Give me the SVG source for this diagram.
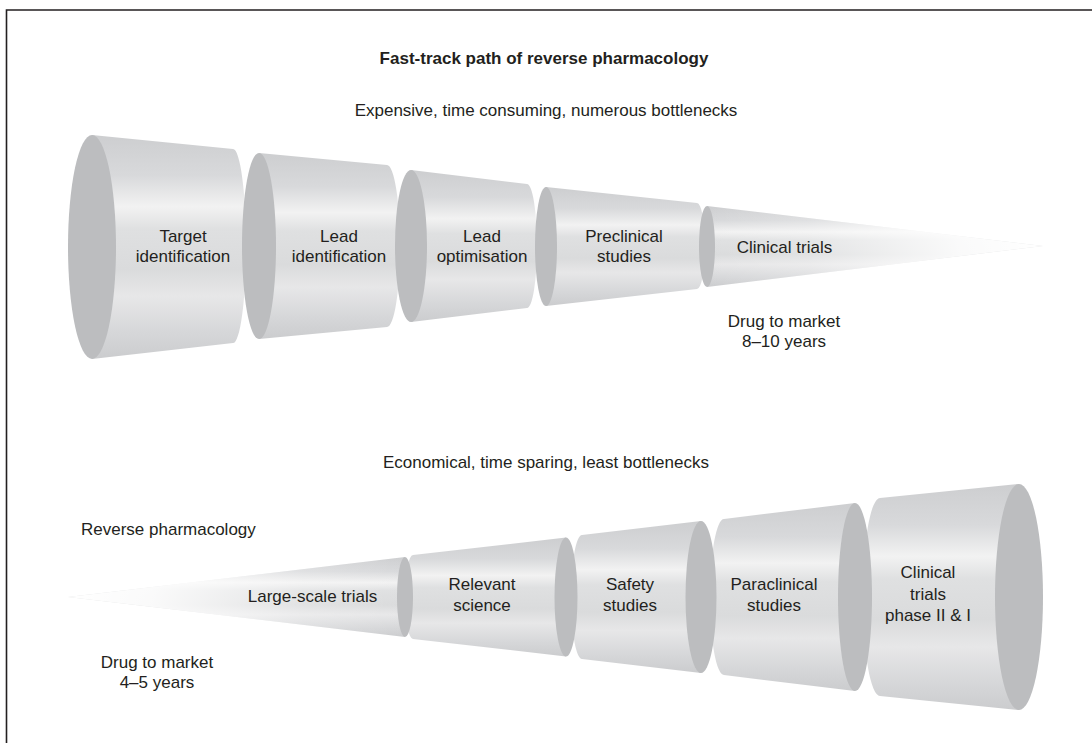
<svg xmlns="http://www.w3.org/2000/svg" width="1092" height="743" viewBox="0 0 1092 743">
<defs>
<linearGradient id="body" x1="0" y1="0" x2="0" y2="1">
<stop offset="0" stop-color="#cdced0"/>
<stop offset="0.18" stop-color="#d8d9db"/>
<stop offset="0.32" stop-color="#f2f2f2"/>
<stop offset="0.42" stop-color="#dfe0e1"/>
<stop offset="0.6" stop-color="#dadbdc"/>
<stop offset="0.72" stop-color="#e7e7e8"/>
<stop offset="0.88" stop-color="#d6d7d9"/>
<stop offset="1" stop-color="#cbccce"/>
</linearGradient>
<linearGradient id="fadeR" x1="0" y1="0" x2="1" y2="0">
<stop offset="0" stop-color="#fff" stop-opacity="0"/>
<stop offset="0.3" stop-color="#fff" stop-opacity="0.2"/>
<stop offset="0.75" stop-color="#fff" stop-opacity="0.85"/>
<stop offset="1" stop-color="#fff" stop-opacity="1"/>
</linearGradient>
<linearGradient id="fadeL" x1="1" y1="0" x2="0" y2="0">
<stop offset="0" stop-color="#fff" stop-opacity="0"/>
<stop offset="0.3" stop-color="#fff" stop-opacity="0.2"/>
<stop offset="0.75" stop-color="#fff" stop-opacity="0.85"/>
<stop offset="1" stop-color="#fff" stop-opacity="1"/>
</linearGradient>
<style>
.b{fill:url(#body)}
.f{fill:#bcbdbf}
.t{font-family:"Liberation Sans",Arial,sans-serif;font-size:17px;fill:#231f20}
.c{text-anchor:middle}
.h{font-weight:bold}
.frame{stroke:#231f20;stroke-width:1.6;fill:none}
</style>
</defs>
<rect width="1092" height="743" fill="#fff"/>
<path class="frame" d="M6.5 743 V10 H1092"/>
<g id="titles">
<text class="t c h" x="544" y="64">Fast-track path of reverse pharmacology</text>
<text class="t c" x="546" y="116">Expensive, time consuming, numerous bottlenecks</text>
<text class="t c" x="546" y="468">Economical, time sparing, least bottlenecks</text>
<text class="t" x="81" y="535">Reverse pharmacology</text>
<text class="t c" x="784" y="327">Drug to market</text>
<text class="t c" x="784" y="347">8–10 years</text>
<text class="t c" x="157" y="668">Drug to market</text>
<text class="t c" x="157" y="688">4–5 years</text>
</g>
<g id="top-target">
<path class="b" d="M92 135 L233 149 A13 97 0 0 1 233 343 L92 359 Z"/>
<ellipse class="f" cx="92" cy="247" rx="24" ry="112"/>
<text class="t c" x="183" y="242">Target</text>
<text class="t c" x="183" y="262">identification</text>
</g>
<g id="top-lead-id">
<path class="b" d="M259 153 L387 165 A13 81 0 0 1 387 327 L259 339 Z"/>
<ellipse class="f" cx="259" cy="246" rx="17" ry="93"/>
<text class="t c" x="339" y="242">Lead</text>
<text class="t c" x="339" y="262">identification</text>
</g>
<g id="top-lead-opt">
<path class="b" d="M411 170 L527 184 A10 62 0 0 1 527 308 L411 322 Z"/>
<ellipse class="f" cx="411" cy="246" rx="16" ry="76"/>
<text class="t c" x="482" y="242">Lead</text>
<text class="t c" x="482" y="262">optimisation</text>
</g>
<g id="top-preclinical">
<path class="b" d="M546 187 L697 203 A8 43 0 0 1 697 289 L546 306 Z"/>
<ellipse class="f" cx="546" cy="246.5" rx="11" ry="59.5"/>
<text class="t c" x="624" y="242">Preclinical</text>
<text class="t c" x="624" y="262">studies</text>
</g>
<g id="top-clinical">
<path class="b" d="M707 206 L1043 246 L707 287 Z"/>
<path fill="url(#fadeR)" d="M707 206 L1043 246 L707 287 Z"/>
<ellipse class="f" cx="707" cy="246.5" rx="8" ry="40.5"/>
<text class="t c" x="784.5" y="253">Clinical trials</text>
</g>
<g id="bot-clinical">
<path class="b" d="M880 498 L1019 484 L1019 710 L880 696 A17 98 0 0 1 880 498 Z"/>
<ellipse class="f" cx="1019" cy="597" rx="24" ry="113"/>
<text class="t c" x="928" y="578">Clinical</text>
<text class="t c" x="928" y="599.5">trials</text>
<text class="t c" x="928" y="621">phase II &amp; I</text>
</g>
<g id="bot-paraclinical">
<path class="b" d="M724 519 L855 503 L855 691 L724 675 A14 78 0 0 1 724 519 Z"/>
<ellipse class="f" cx="855" cy="597" rx="17" ry="94"/>
<text class="t c" x="774" y="590">Paraclinical</text>
<text class="t c" x="774" y="611">studies</text>
</g>
<g id="bot-safety">
<path class="b" d="M582 535 L701 521 L701 673 L582 659 A11 62 0 0 1 582 535 Z"/>
<ellipse class="f" cx="701" cy="597" rx="15.5" ry="76"/>
<text class="t c" x="630" y="590">Safety</text>
<text class="t c" x="630" y="611">studies</text>
</g>
<g id="bot-relevant">
<path class="b" d="M413 555 L566 537.5 L566 656.5 L413 639 A8 42 0 0 1 413 555 Z"/>
<ellipse class="f" cx="566" cy="597" rx="11.5" ry="59.5"/>
<text class="t c" x="482" y="590">Relevant</text>
<text class="t c" x="482" y="611">science</text>
</g>
<g id="bot-largescale">
<path class="b" d="M68 597 L405 557 L405 637 Z"/>
<path fill="url(#fadeL)" d="M68 597 L405 557 L405 637 Z"/>
<ellipse class="f" cx="405" cy="597" rx="8" ry="40"/>
<text class="t c" x="312.5" y="602">Large-scale trials</text>
</g>
<g id="connectors"/>
</svg>
